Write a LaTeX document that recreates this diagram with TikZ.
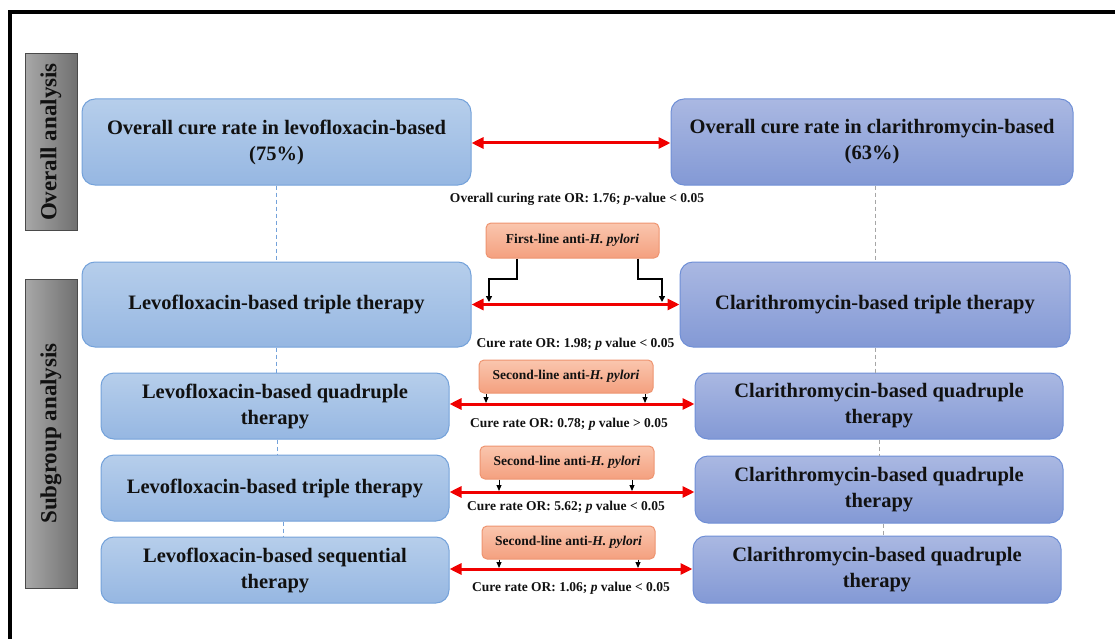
\documentclass[tikz,border=0pt]{standalone}
\usepackage{fontspec}
\setmainfont{Liberation Serif}
\usetikzlibrary{arrows.meta,calc}
\definecolor{lbtop}{HTML}{B6CEEB}
\definecolor{lbbot}{HTML}{96B7E2}
\definecolor{lbdraw}{HTML}{74A2DA}
\definecolor{rbtop}{HTML}{AAB8E2}
\definecolor{rbbot}{HTML}{8399D5}
\definecolor{rbdraw}{HTML}{6F8FD6}
\definecolor{ortop}{HTML}{FAC6AE}
\definecolor{orbot}{HTML}{F4A07F}
\definecolor{ordraw}{HTML}{EE9470}
\definecolor{grl}{HTML}{A8A8A8}
\definecolor{grr}{HTML}{707070}
\definecolor{grd}{HTML}{4A4A4A}
\definecolor{redar}{HTML}{F00000}
\definecolor{txt}{HTML}{111111}
\tikzset{
  lbox/.style={draw=lbdraw, line width=1pt, rounded corners=13pt, top color=lbtop, bottom color=lbbot, text=txt, align=center, inner sep=0pt, font=\fontsize{20.5}{26}\selectfont\bfseries},
  rbox/.style={draw=rbdraw, line width=1pt, rounded corners=13pt, top color=rbtop, bottom color=rbbot, text=txt, align=center, inner sep=0pt, font=\fontsize{20.5}{26}\selectfont\bfseries},
  obox/.style={draw=ordraw, line width=1pt, rounded corners=5pt, top color=ortop, bottom color=orbot, text=txt, align=center, inner sep=0pt, font=\fontsize{13.5}{16}\selectfont\bfseries},
  gbox/.style={draw=grd, line width=1pt, left color=grl, right color=grr, text=txt, inner sep=0pt, font=\fontsize{23}{26}\selectfont\bfseries},
  lab/.style={text=txt, inner sep=0pt, font=\fontsize{13.5}{16}\selectfont\bfseries},
  redarrow/.style={draw=redar, line width=3pt, {Triangle[length=12pt,width=11pt]}-{Triangle[length=12pt,width=11pt]}},
  blkarrow/.style={draw=black, line width=2pt, -{Triangle[length=6pt,width=6pt]}},
  thinarrow/.style={draw=black, line width=1pt, -{Triangle[length=6pt,width=5pt]}},
  ldash/.style={draw=lbdraw, line width=0.8pt, dashed, dash pattern=on 4pt off 3pt},
  rdash/.style={draw=gray!70, line width=0.8pt, dashed, dash pattern=on 4pt off 3pt},
}
\begin{document}
\begin{tikzpicture}[x=1pt,y=-1pt]
\useasboundingbox (0,0) rectangle (1115,639);
% frame
\draw[line width=4.5pt] (1115,12) -| (10,639);
% side labels
\node[gbox, minimum width=52pt, minimum height=176pt] (ga) at (51,142) {};
\node[text=txt, font=\fontsize{23}{26}\selectfont\bfseries, rotate=90] (gat) at (ga.center) {Overall analysis};
\node[gbox, minimum width=52pt, minimum height=309pt] (gs) at (51,433.5) {};
\node[text=txt, font=\fontsize{23}{26}\selectfont\bfseries, rotate=90] (gst) at (gs.center) {Subgroup analysis};
% overall row
\node[lbox, minimum width=389pt, minimum height=86pt] (lo) at (276.5,142) {Overall cure rate in levofloxacin-based\\(75\%)};
\node[rbox, minimum width=402pt, minimum height=86pt] (ro) at (872,142) {Overall cure rate in clarithromycin-based\\(63\%)};
\draw[redarrow] ([yshift=-1pt]lo.east) -- ([yshift=-1pt]ro.west);
\node[lab] (l1) at (577,199) {Overall curing rate OR: 1.76; \textit{p}-value < 0.05};
% triple row
\node[lbox, minimum width=389pt, minimum height=85pt] (lt) at (276.5,304.5) {Levofloxacin-based triple therapy};
\node[rbox, minimum width=390pt, minimum height=85pt] (rt) at (875,304.5) {Clarithromycin-based triple therapy};
\draw[redarrow] (lt.east) -- (rt.west);
\node[obox, minimum width=173pt, minimum height=35pt] (fl) at (572.5,240.5) {First-line anti-\textit{H. pylori}};
\coordinate (f1) at (489,302);
\coordinate (f2) at (662,302);
\draw[blkarrow] ([xshift=-55.5pt]fl.south) |- (f1 |- 0,279) -- (f1);
\draw[blkarrow] ([xshift=65.5pt]fl.south) |- (f2 |- 0,279) -- (f2);
\node[lab] (l2) at (575.5,344) {Cure rate OR: 1.98; \textit{p} value < 0.05};
% quadruple row
\node[lbox, minimum width=348pt, minimum height=66pt] (lq) at (275,406) {Levofloxacin-based quadruple\\therapy};
\node[rbox, minimum width=368pt, minimum height=66pt] (rq) at (879,406) {Clarithromycin-based quadruple\\therapy};
\draw[redarrow] ([yshift=2pt]lq.east) -- ([yshift=2pt]rq.west);
\node[obox, minimum width=174pt, minimum height=33pt] (s1) at (566,376.5) {Second-line anti-\textit{H. pylori}};
\coordinate (a1) at (486,403);
\coordinate (a2) at (645,403);
\draw[thinarrow] (s1.south -| a1) -- (a1);
\draw[thinarrow] (s1.south -| a2) -- (a2);
\node[lab] (l3) at (569,424) {Cure rate OR: 0.78; \textit{p} value > 0.05};
% triple 2 row
\node[lbox, minimum width=348pt, minimum height=66pt] (lt2) at (275,488) {Levofloxacin-based triple therapy};
\node[rbox, minimum width=368pt, minimum height=67pt] (rq2) at (879,489.5) {Clarithromycin-based quadruple\\therapy};
\draw[redarrow] ([yshift=-4pt]lt2.east) -- ([yshift=-2.5pt]rq2.west);
\node[obox, minimum width=174pt, minimum height=33pt] (s2) at (567,462.5) {Second-line anti-\textit{H. pylori}};
\coordinate (b1) at (499,491);
\coordinate (b2) at (632,491);
\draw[thinarrow] (s2.south -| b1) -- (b1);
\draw[thinarrow] (s2.south -| b2) -- (b2);
\node[lab] (l4) at (566,507) {Cure rate OR: 5.62; \textit{p} value < 0.05};
% sequential row
\node[lbox, minimum width=348pt, minimum height=66pt] (ls) at (275,570) {Levofloxacin-based sequential\\therapy};
\node[rbox, minimum width=368pt, minimum height=67pt] (rq3) at (877,569.5) {Clarithromycin-based quadruple\\therapy};
\draw[redarrow] ([yshift=1pt]ls.east) -- ([yshift=0.5pt]rq3.west);
\node[obox, minimum width=173pt, minimum height=33pt] (s3) at (568.5,542.5) {Second-line anti-\textit{H. pylori}};
\coordinate (c1) at (499,568);
\coordinate (c2) at (638,568);
\draw[thinarrow] (s3.south -| c1) -- (c1);
\draw[thinarrow] (s3.south -| c2) -- (c2);
\node[lab] (l5) at (571,588) {Cure rate OR: 1.06; \textit{p} value < 0.05};
% dashed guides
\draw[ldash] (lo.south) -- (lo.south |- lt.north);
\draw[ldash] (lt.south) -- (lt.south |- lq.north);
\draw[ldash] ([xshift=2pt]lq.south) -- ([xshift=2pt]lq.south |- lt2.north);
\draw[ldash] ([xshift=8pt]lt2.south) -- ([xshift=8pt]lt2.south |- ls.north);
\draw[rdash] ([xshift=3pt]ro.south) -- ([xshift=3pt]ro.south |- rt.north);
\draw[rdash] (rt.south) -- (rt.south |- rq.north);
\draw[rdash] (rq.south) -- (rq.south |- rq2.north);
\draw[rdash] ([xshift=4pt]rq2.south) -- ([xshift=4pt]rq2.south |- rq3.north);
\end{tikzpicture}
\end{document}
